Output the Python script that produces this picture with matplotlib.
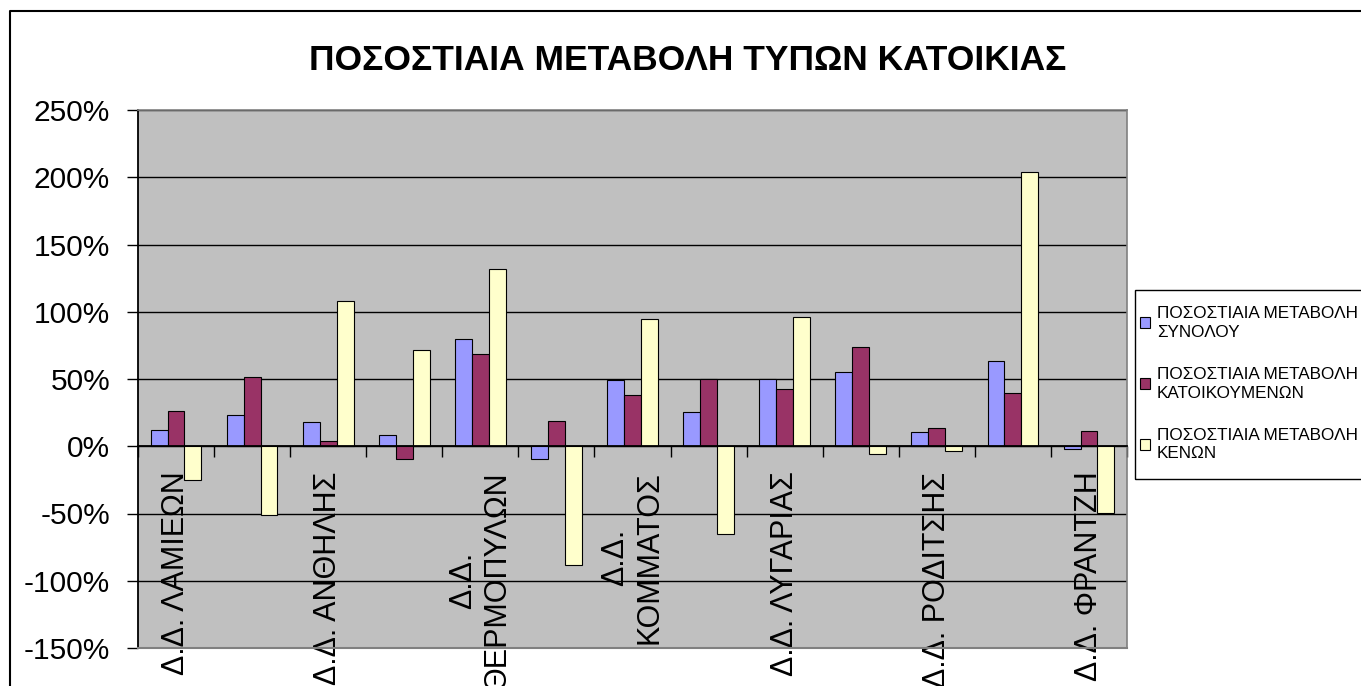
import matplotlib
matplotlib.use("Agg")
import matplotlib.pyplot as plt
import numpy as np
from matplotlib.patches import Rectangle
from matplotlib.legend_handler import HandlerPatch
from matplotlib.lines import Line2D
from matplotlib.ticker import PercentFormatter, FixedLocator

plt.rcParams['font.family'] = ['Liberation Sans', 'DejaVu Sans']
plt.rcParams['axes.unicode_minus'] = False

# data (fractions)
categories = ['Δ.Δ. ΛΑΜΙΕΩΝ', '', 'Δ.Δ. ΑΝΘΗΛΗΣ', '', 'Δ.Δ.\nΘΕΡΜΟΠΥΛΩΝ', '',
              'Δ.Δ.\nΚΟΜΜΑΤΟΣ', '', 'Δ.Δ. ΛΥΓΑΡΙΑΣ', '', 'Δ.Δ. ΡΟΔΙΤΣΗΣ', '',
              'Δ.Δ. ΦΡΑΝΤΖΗ']
total = [0.12, 0.235, 0.18, 0.08, 0.80, -0.094, 0.49, 0.252, 0.50, 0.552, 0.106, 0.636, -0.017]
occupied = [0.26, 0.516, 0.042, -0.094, 0.688, 0.188, 0.381, 0.50, 0.426, 0.735, 0.136, 0.396, 0.116]
empty = [-0.248, -0.51, 1.078, 0.718, 1.317, -0.884, 0.946, -0.656, 0.96, -0.054, -0.037, 2.037, -0.495]
series_names = ['ΠΟΣΟΣΤΙΑΙΑ ΜΕΤΑΒΟΛΗ\nΣΥΝΟΛΟΥ',
                'ΠΟΣΟΣΤΙΑΙΑ ΜΕΤΑΒΟΛΗ\nΚΑΤΟΙΚΟΥΜΕΝΩΝ',
                'ΠΟΣΟΣΤΙΑΙΑ ΜΕΤΑΒΟΛΗ\nΚΕΝΩΝ']
colors = ['#9999FF', '#993366', '#FFFFCC']

W, H = 1361, 686
fig = plt.figure(figsize=(W / 100, H / 100), dpi=100)
ax = fig.add_axes([138 / W, 1 - 648 / H, (1127 - 138) / W, (648 - 110) / H])
ax.set_facecolor('#C0C0C0')

x = np.arange(len(categories))
w = 1 / 4.5
for i, (vals, c, name) in enumerate(zip([total, occupied, empty], colors, series_names)):
    ax.bar(x + (i - 1) * w, vals, w, color=c, edgecolor='black', linewidth=0.8,
           label=name, zorder=3)

ax.set_xlim(-0.5, len(categories) - 0.5)
ax.set_ylim(-1.5, 2.5)
ax.set_yticks(np.arange(-1.5, 2.51, 0.5))
ax.yaxis.set_major_formatter(PercentFormatter(xmax=1, decimals=0))
ax.yaxis.grid(True, color='black', linewidth=1)
ax.set_axisbelow(True)
ax.tick_params(axis='y', labelsize=21.5, length=8, width=1, pad=12, direction='out')

# x axis at zero, ticks at category boundaries, labels at centres
ax.spines['bottom'].set_position(('data', 0))
ax.spines['bottom'].set_linewidth(1.3)
ax.spines['bottom'].set_zorder(4)
ax.xaxis.set_major_locator(FixedLocator(np.arange(-0.5, len(categories), 1.0)))
ax.xaxis.set_major_formatter(plt.NullFormatter())
ax.tick_params(axis='x', which='major', length=8, width=1, direction='out')
lab_idx = [i for i, c in enumerate(categories) if c]
ax.xaxis.set_minor_locator(FixedLocator(lab_idx))
ax.set_xticklabels([categories[i] for i in lab_idx], minor=True, rotation=90,
                   fontsize=22, va='top', ha='center', multialignment='center')
ax.tick_params(axis='x', which='minor', length=0, pad=18)

ax.spines['left'].set_linewidth(1.3)
for s in ['top', 'right']:
    ax.spines[s].set_color('#808080')
    ax.spines[s].set_linewidth(1.2)
ax.plot([0, 1], [0, 0], transform=ax.transAxes, color='#808080', lw=1.5,
        clip_on=False, zorder=5)

fig.text(688 / W, 1 - 60 / H, 'ΠΟΣΟΣΤΙΑΙΑ ΜΕΤΑΒΟΛΗ ΤΥΠΩΝ ΚΑΤΟΙΚΙΑΣ',
         ha='center', va='center', fontsize=25.5, fontweight='bold')

# outer chart border (left and top visible)
fig.add_artist(Line2D([10 / W, 10 / W, 1.02], [-0.02, 1 - 11 / H, 1 - 11 / H],
                      transform=fig.transFigure, color='black', lw=1.5))

# legend frame
fig.add_artist(Rectangle((1135 / W, 1 - 479 / H), 0.2, (479 - 290) / H,
                         transform=fig.transFigure, fill=False,
                         edgecolor='black', lw=1))


def first_line_patch(legend, orig_handle, xdescent, ydescent, width, height, fontsize):
    return Rectangle((-xdescent, -ydescent + 0.6 * fontsize), width, height)


leg = ax.legend(loc='upper left', bbox_to_anchor=(1140 / W, 1 - 306 / H),
                bbox_transform=fig.transFigure, fontsize=12.3, frameon=False,
                handlelength=0.6, handleheight=0.6, handletextpad=0.4,
                labelspacing=1.6, borderpad=0, borderaxespad=0,
                handler_map={Rectangle: HandlerPatch(patch_func=first_line_patch)})
for t in leg.get_texts():
    t.set_linespacing(1.3)

fig.savefig('out.png', dpi=100)
